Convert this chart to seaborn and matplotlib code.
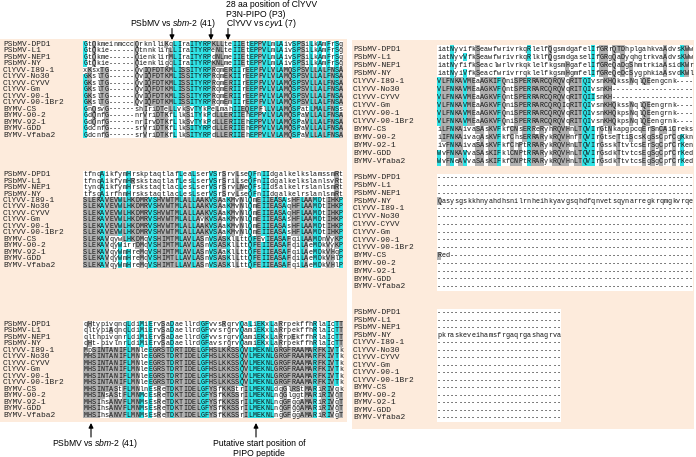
import numpy as np
import matplotlib
matplotlib.use('Agg')
import matplotlib.pyplot as plt
from matplotlib.colors import ListedColormap
from matplotlib.patches import Rectangle
import seaborn as sns

sns.set_theme(style='white')
plt.rcParams['font.family'] = ['Liberation Sans', 'DejaVu Sans']
plt.rcParams['mathtext.fontset'] = 'custom'
plt.rcParams['mathtext.it'] = 'Liberation Sans:italic'
plt.rcParams['mathtext.rm'] = 'Liberation Sans'

names = ["PSbMV-DPD1", "PSbMV-L1", "PSbMV-NEP1", "PSbMV-NY",
         "ClYVV-I89-1", "ClYVV-No30", "ClYVV-CYVV", "ClYVV-Gm", "ClYVV-90-1", "ClYVV-90-1Br2",
         "BYMV-CS", "BYMV-90-2", "BYMV-92-1", "BYMV-GDD", "BYMV-Vfaba2"]

# left column, block 1
seq_l1 = [
    "GtQkmeinmcccQrknlliKqLIraITYRPKLLteIIEtEPPVLmLAivSPSiLkAmFrSg",
    "GtQkie------QtnnklirLLIraITYRPeNLteIIEtEPPVLmLAivSPSiLkAmFrSg",
    "GtQkme------QienklirMLIraITYRPdNLmeIIEtEPPVLmLAivSPSiLkAmFrSg",
    "GtQkie------QienkligqLIraITYRPKNLmeIIEtEPPVLmLAivSPSiLkAmFrSg",
    "xKsxTG------QvIQFDTKMLISSITYRPRqmERIIrEEPFVLVLAMQSPSVLLALFNSA",
    "GKslTG------QvIQFDTKMLISSITYRPRqmEKIIrEEPFVLVLAMQSPSVLLALFNSA",
    "GKslTG------QvIQFDTKMLISSITYRPRqmERIIrEEPFVLVLAMQSPSVLLALFNSA",
    "GKslTG------QvIQFDTKMLISSITYRPRqmERIIrEEPFVLVLAMQSPSVLLALFNSA",
    "GKslTG------QvIQFDTKMLISSITYRPRqmERIIrEEPFVLVLAMQSPSVLLALFNSA",
    "GKslTG------QvIQFDTKMLISSITYRPRqmEmIIrEEPFVLVLAMQSPSVLLALFNSA",
    "GnQsvG------shIriDTeLLvkSvTYkPeLmahIIEQEPFlLVLAMQSPatLMALFNSs",
    "GdQnfG------nrVriDTKfLlkSiTYkPdLLERIIEhEPPVLVLAMQSPaVLLALFNSA",
    "GdQnfG------nrIrvDTKfLlkSvTYkPdLLERIIEhEPPVLVLAMQSPaVLLALFNSA",
    "GdcnfG------srVriDTKfLlkSITYRPdLLERIIEhEPPVLVLAMQSPaVLLALFNSA",
    "GdcnfG------srVriDTKfLlkSITYRPdLLERIIEhEPPVLVLAMQSPaVLLALFNSA",
]
cyan_l1 = [0, 21, 22, 25, 26, 27, 28, 29, 35, 36, 39, 40, 42, 43, 45, 46, 49, 50, 53, 55, 57, 59]

# left column, block 2
seq_l2 = [
    "tfnqAikfymHrskptaqtlafLeaLserVSrSrvLseQFnIIdgalkelkslamssmRt",
    "tfnqAikfymHRskstaqtlafLesLserVSrSriLseQFnIIdgalkelkslanlsvRt",
    "tynqAikfymHrskstaqtlacLesLserVSrSrvLNeQFsIIdsalkelrslanlsmRt",
    "tfsgAirfhmHrskstaqtlacLesLserVSrSrvLseQFnIIdgalkelrslanlsmRt",
    "SLEKAVEVWLHKDMRVSHVWTMLALLAAKVSAaKMvNlQmEIIEASAsHFLAAMDtIHKP",
    "SLEKAVEVWLHKDMRVSHVWTMLALLAAKVSAaKMvNlQmEIIEASAqHFLAAMDtIHKP",
    "SLEKAVEVWLHKDMRVSHVWTMLALLAAKVSAaKMvNlQmEIIEASAqHFLAAMDtIHKP",
    "SLEKAVEVWLHKDMRVSHVWTMLALLAvKVSAaKMvNlQmEIIEASAsHFLAAMDtIHKP",
    "SLEKAVEVWLHKDMRVSHVWTMLALLAAKVSAaKMvNlQmEIIEASAsHFLAAMDtIHKP",
    "SLEKAVEVWLHKDMRVSHVWTMLALLAAKVSAaKMvNlQmEIIEASAsHFLAAMDtIHKP",
    "SLEKAVqywLHKDMqVSHIMTMLAVLASnVSASKlLttQFEvIEASAFqiLAAMDnVyKP",
    "SLEKAVqyWirrDMqVSHIMTMLAVLASnVSASKlLttQFEIIEASAFqiLAeMDkVyKP",
    "SLEKAVqyWmHreMqVSHIMTMLAVLASnVSAaKlLttQFEIIEASAFqiLAeMDkVHqP",
    "SLEKAVqyWmHreMqVSHIMTLLAVLASnVSASKlLttQFEIIEASAFqiLAeMDkVHlP",
    "SLEKAVqyWmHreMqVSHIMTLLAVLASnVSASKlLttQFEIIEASAFqiLAeMDkVHlP",
]
cyan_l2 = [4, 8, 10, 15, 16, 22, 25, 29, 30, 33, 38, 39, 41, 42, 44, 46, 50, 53, 54, 59]

# left column, block 3
seq_l3 = [
    "qHtypivqnqLdiMiErvSaDaellrdGFvvsRgrvQaLiEKxLaRrpekffhRlaIcTT",
    "qltypiAqnqLdiMiErvSaDaellrdGFvvsrgrvQamiEKxLaRrpekffhRlaIcTT",
    "qlthpivqnrLdiMiErvSaDaellrdGFvvsrgrvQamiEKxLaRrpEkffhRlaIcTT",
    "qHt-pivlnrLdiMiErvSaDaellrdGFavsrgrvQamiEKxLaRrpekffhRlaIcTT",
    "MpSINTANIFLMNleEGRSTDRTIDELGFHSLKKSSQVLMEKNLGRGFRAAMARFKIVTk",
    "MHSINTANIFLMNleEGRSTDRTIDELGFHSLKKSSQVLMEKNLGRGFRAAMARFKIVTk",
    "MHSINTANIFLMNleEGRSTDRTIDELGFHSLKKSSQVLMEKNLGRGFRAAMARFKIVTk",
    "MHSINTANIFLMNleEGRSTDRTIDELGFHSLKKSSQVLMEKNLGRGFRAAMARFKIVTk",
    "MHSINTANIFLMNleEGRSTDRTIDELGFHSLKKSSQVLMEKNLGRGFRAAMARFKIVTk",
    "MHSINTANIFLMNleEGRSTDRTIDELGFHSLKKSSQVLMEKNLGRGFRAAMARFKIVTk",
    "MHSINTAStFLMNlnEsReTDKTIDELGFYSfKKStrILMEKNLdgGlRStMARiRIVgk",
    "MHSINsAStFLMNMcEsReTDKTIDELGFYSfKKSSrILMEKNLngGlggtMARiRIVgT",
    "MHSIhsANVFLMNMsEsReTDKTIDELGFYSfKKSSrILMEKNLngGFggAMARiRIVgT",
    "MHSIhsANVFLMNMsEsReTDKTIDELGFYSfKKSSrILMEKNLngGFggAMARiRIVgT",
    "MHSIhsANVFLMNMsEsReTDKTIDELGFYSfKKSSrILMEKNLngGFggAMARiRIVgT",
]
cyan_l3 = [10, 13, 15, 20, 27, 28, 36, 38, 39, 40, 41, 42, 43, 53, 56, 58]

# right column, block 1
seq_r1 = [
    "iatNyvifkSeawfwrivrkqRlelfQgsmdgafelIfGRrQTDhplgahkvaAdvsKWw",
    "iatNyvVfkSeawfwrivrkqRlklfQgsmdgaselIfGRgQaDyqhgtrkvaAdvsKWw",
    "iatNyfifkSeaclwrlvrkqklelfkgsmHgafelIfGReQaDgShmtrkiaAsidKWr",
    "iatNyiVfkSeacfwrivrrqklelfkgsmHgmfelIfGReQeDcSygphkiaAsvdKWl",
    "VLFNKAVMEaAGKIFQniSPERRARCQRQVqRITQIvsnKHQkssNqlQEengcnk----",
    "VLFNKAVMEaAGKVFQntSPERRARCQRQVqRITQIvsnKH-------------------",
    "VLFNKAVMEaAGKVFQntSPERRARCQRQVqRITQIIsnKH-------------------",
    "VLFNKAVMEaAGKVFQniSPERRARCQRQIqRITQIvsnKHQkssNqlQEengrnk----",
    "VLFNKAVMEaAGKVFQniSPERRARCQRQVqRITQIvsnKHQkpsNqlQEengrnk----",
    "VLFNKAVMEaAGKVFQniSPERRARCQRQVqRITQIvsnKHQkpsNqlQEengrnk----",
    "iLFNKAivaSAsKVFkfCNsERReRyhRQVHnLTQVIrGtNkapgpcqErSnCAiCreks",
    "iIFNKAivagAsKVFkfChsERRARykRQVHnfTQVIrGtseTtiScsKgSsCpfCgKkn",
    "ivFNKAivaSAsKVFkfChPtRRARykRQVHnLTQVIrGsskTtvtcsErSgCpfCrKen",
    "WvFNKAVvaSAsKIFklCNPtRRARykRQVHnLTQVIrGsdkTtvtcsEgSgCpfCrKed",
    "WvFNeAVvaSAsKIFkfCNPtRRARykRQVHnLTQVIrGsdkTtvtcsEgSgCpfCrKed",
]
cyan_r1 = [0, 3, 6, 14, 21, 34, 35, 36, 57]

# right column, block 2
seq_r2 = ["-" * 60] * 3 + [
    "Qasysgskkhnyahdhsnilrnheihkyavgsqhdfqnvetsqynarregkrqmgkvrqe",
] + ["-" * 60] * 6 + ["Red" + "-" * 57] + ["-" * 60] * 4
cyan_r2 = []

# right column, block 3
seq_r3 = ["-" * 29] * 3 + ["pkraskeveihamsfrgaqrgashagrva"] + ["-" * 29] * 11
cyan_r3 = []

PEACH = '#fdebdc'
CYAN = '#30e3e6'
GRAY = '#b0b0b0'
W, H = 696, 457

fig = plt.figure(figsize=(W / 100, H / 100), dpi=100)


def fx(x):
    return x / W


def fy(y):
    return 1 - y / H


for x0, y0, x1, y1 in [(0, 39, 347, 422), (352, 40, 694, 429)]:
    fig.add_artist(Rectangle((fx(x0), fy(y1)), (x1 - x0) / W, (y1 - y0) / H,
                             transform=fig.transFigure, facecolor=PEACH,
                             edgecolor='none', zorder=0))

cmap = ListedColormap(['white', GRAY, CYAN])

# sequence area in pixels: (seqs, cyan columns, name x, left, right, top, bottom)
blocks = [
    (seq_l1, cyan_l1, 3, 83, 343, 41.3, 138.3),
    (seq_l2, cyan_l2, 3, 83, 343, 171.5, 268.3),
    (seq_l3, cyan_l3, 3, 83, 343, 320.8, 418.3),
    (seq_r1, cyan_r1, 353, 437, 693, 45.0, 166.0),
    (seq_r2, cyan_r2, 353, 437, 693, 173.7, 290.9),
    (seq_r3, cyan_r3, 353, 437, 560.8, 309.0, 421.5),
]

for seqs, cyan, nx, x0, x1, y0, y1 in blocks:
    ax = fig.add_axes([fx(x0), fy(y1), (x1 - x0) / W, (y1 - y0) / H])
    cls = np.array([[2 if (c.isupper() and j in cyan) else (1 if c.isupper() else 0)
                     for j, c in enumerate(s)] for s in seqs])
    lab = np.array([list(s) for s in seqs])
    sns.heatmap(cls, cmap=cmap, vmin=-0.5, vmax=2.5, cbar=False,
                annot=lab, fmt='', xticklabels=False, yticklabels=names,
                annot_kws=dict(fontsize=4.9, family='Liberation Mono', color='#111111'),
                ax=ax)
    ax.tick_params(axis='y', length=0, pad=(x0 - nx) * 0.72)
    for t in ax.get_yticklabels():
        t.set_horizontalalignment('left')
        t.set_fontsize(5.7)
        t.set_fontfamily('Liberation Mono')
        t.set_color('#222222')
        t.set_rotation(0)

txt = dict(fontsize=6.2, va='center', color='black')
fig.text(fx(226), fy(4.5), "28 aa position of ClYVV", **txt)
fig.text(fx(226), fy(14.2), "P3N-PIPO (P3)", **txt)
fig.text(fx(226), fy(23.8), r"ClYVV vs $\mathit{cyv1}$ (7)", **txt)
fig.text(fx(130), fy(23.8), r"PSbMV vs $\mathit{sbm}$-2 (41)", **txt)

arrow = dict(arrowstyle='-|>', color='black', lw=0.8, mutation_scale=7, shrinkA=0, shrinkB=0)
for ax_x in [172, 211, 228]:
    fig.add_artist(plt.Annotation('', xy=(fx(ax_x), fy(40)), xytext=(fx(ax_x), fy(28.5)),
                                  xycoords='figure fraction', arrowprops=arrow))
for ax_x in [91, 256]:
    fig.add_artist(plt.Annotation('', xy=(fx(ax_x), fy(423)), xytext=(fx(ax_x), fy(437)),
                                  xycoords='figure fraction', arrowprops=arrow))

fig.text(fx(95), fy(443.5), r"PSbMV vs $\mathit{sbm}$-2 (41)", ha='center', **txt)
fig.text(fx(259), fy(443.5), "Putative start position of", ha='center', **txt)
fig.text(fx(259), fy(453), "PIPO peptide", ha='center', **txt)

fig.savefig('out.png', dpi=100)
